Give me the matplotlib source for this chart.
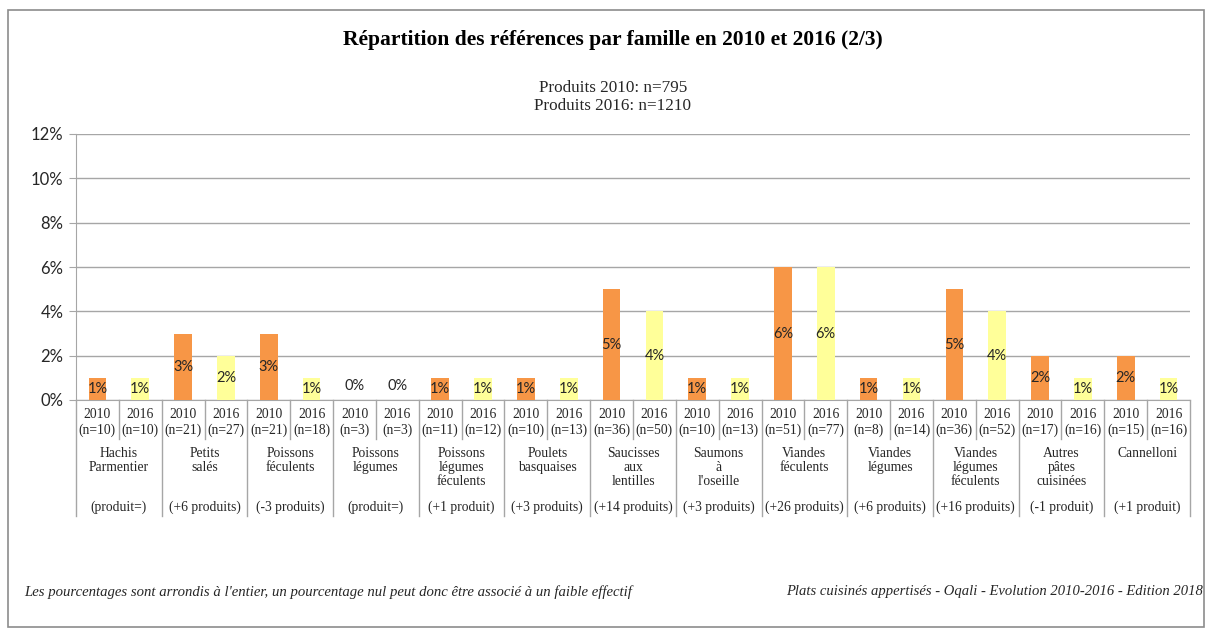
import matplotlib
matplotlib.use("Agg")
import matplotlib.pyplot as plt
from matplotlib.patches import Rectangle
from matplotlib.lines import Line2D
import numpy as np

# data
familles = ["Hachis\nParmentier", "Petits\nsalés", "Poissons\nféculents", "Poissons\nlégumes",
            "Poissons\nlégumes\nféculents", "Poulets\nbasquaises", "Saucisses\naux\nlentilles",
            "Saumons\nà\nl'oseille", "Viandes\nféculents", "Viandes\nlégumes",
            "Viandes\nlégumes\nféculents", "Autres\npâtes\ncuisinées", "Cannelloni"]
pct_2010 = [1, 3, 3, 0, 1, 1, 5, 1, 6, 1, 5, 2, 2]
pct_2016 = [1, 2, 1, 0, 1, 1, 4, 1, 6, 1, 4, 1, 1]
n_2010 = [10, 21, 21, 3, 11, 10, 36, 10, 51, 8, 36, 17, 15]
n_2016 = [10, 27, 18, 3, 12, 13, 50, 13, 77, 14, 52, 16, 16]
evolution = ["(produit=)", "(+6 produits)", "(-3 produits)", "(produit=)", "(+1 produit)",
             "(+3 produits)", "(+14 produits)", "(+3 produits)", "(+26 produits)",
             "(+6 produits)", "(+16 produits)", "(-1 produit)", "(+1 produit)"]
yticks = [0, 2, 4, 6, 8, 10, 12]

ORANGE = "#F79646"
JAUNE = "#FFFF99"
GRIS = "#A6A6A6"
TXT = "#262626"
SERIF = "Liberation Serif"
SANS = "Lato"

W, H = 1206, 630
fig = plt.figure(figsize=(W / 100, H / 100), dpi=100)

# outer frame
fig.add_artist(Rectangle((8 / W, 0.004), (1204 - 8) / W, (630 - 10) / H - 0.004,
                         transform=fig.transFigure, fill=False, ec="#8C8C8C", lw=1.2))

left, right, top, bottom = 76, 1190, 134, 400
ax = fig.add_axes([left / W, 1 - bottom / H, (right - left) / W, (bottom - top) / H])

n = len(familles)
x10 = np.arange(n) * 2
x16 = x10 + 1
bw = 0.41
ax.bar(x10, pct_2010, width=bw, color=ORANGE, zorder=3)
ax.bar(x16, pct_2016, width=bw, color=JAUNE, zorder=3)

for xs, vals in ((x10, pct_2010), (x16, pct_2016)):
    for x, v in zip(xs, vals):
        yl = v / 2 if v > 0 else 0.65
        ax.text(x, yl, f"{v}%", ha="center", va="center", fontsize=10.5,
                family=SANS, color=TXT, zorder=4)

ax.set_xlim(-0.5, 2 * n - 0.5)
ax.set_ylim(0, 12)
ax.set_yticks(yticks)
ax.set_yticklabels([f"{t}%" for t in yticks], family=SANS, fontsize=12, color=TXT)
ax.grid(axis="y", color=GRIS, lw=1, zorder=0)
ax.set_xticks([])
for s in ("top", "right"):
    ax.spines[s].set_visible(False)
ax.spines["left"].set_color(GRIS)
ax.spines["bottom"].set_color(GRIS)
ax.tick_params(axis="y", length=5, color=GRIS, pad=4)

# table under the axis
def fy(py):
    return (bottom - py) / (bottom - top)

tr = ax.get_xaxis_transform()
for i in range(n):
    for x, yr, nn in ((x10[i], "2010", n_2010[i]), (x16[i], "2016", n_2016[i])):
        ax.text(x, fy(414), yr, transform=tr, ha="center", va="center",
                family=SERIF, fontsize=9.8, color=TXT, clip_on=False)
        ax.text(x, fy(430), f"(n={nn})", transform=tr, ha="center", va="center",
                family=SERIF, fontsize=9.8, color=TXT, clip_on=False)
    ax.text(x10[i] + 0.5, fy(447), familles[i], transform=tr, ha="center", va="top",
            family=SERIF, fontsize=9.8, color=TXT, linespacing=1.12, clip_on=False)
    ax.text(x10[i] + 0.5, fy(507), evolution[i], transform=tr, ha="center", va="center",
            family=SERIF, fontsize=9.8, color=TXT, clip_on=False)
    # separators
    ax.add_line(Line2D([x10[i] + 0.5] * 2, [0, fy(439)], transform=tr, color=GRIS,
                       lw=1, clip_on=False))
for k in range(n + 1):
    ax.add_line(Line2D([2 * k - 0.5] * 2, [0, fy(516)], transform=tr, color=GRIS,
                       lw=1, clip_on=False))

fig.text(613 / W, 1 - 40 / H, "Répartition des références par famille en 2010 et 2016 (2/3)",
         ha="center", va="center", family=SERIF, fontsize=15.5, weight="bold", color="black")
fig.text(613 / W, 1 - 97 / H, "Produits 2010: n=795\nProduits 2016: n=1210",
         ha="center", va="center", family=SERIF, fontsize=12.3, color=TXT, linespacing=1.22)
fig.text(24 / W, 1 - 592 / H,
         "Les pourcentages sont arrondis à l'entier, un pourcentage nul peut donc être associé à un faible effectif",
         ha="left", va="center", family=SERIF, style="italic", fontsize=10.6, color=TXT)
fig.text(1203 / W, 1 - 592 / H,
         "Plats cuisinés appertisés - Oqali - Evolution 2010-2016 - Edition 2018",
         ha="right", va="center", family=SERIF, style="italic", fontsize=10.5, color=TXT)

fig.savefig("out.png", dpi=100)
